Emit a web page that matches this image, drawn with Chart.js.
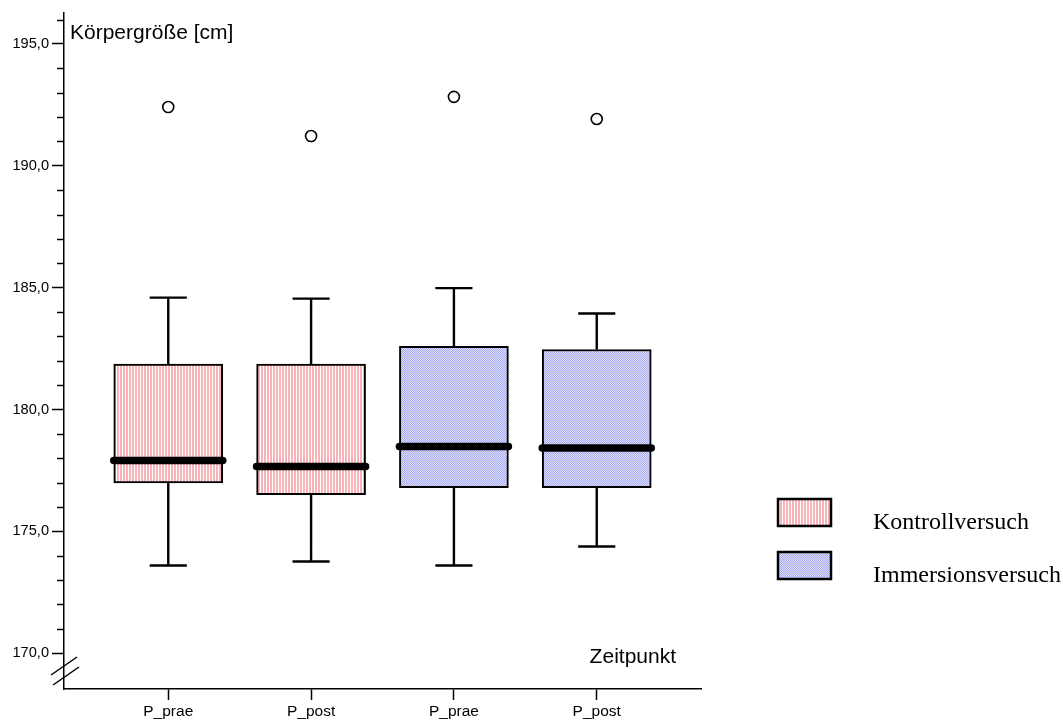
<!DOCTYPE html>
<html><head><meta charset="utf-8">
<script src="https://cdn.jsdelivr.net/npm/chart.js@4/dist/chart.umd.min.js"></script>
<style>html,body{margin:0;padding:0;background:#fff}#wrap{width:1063px;height:722px;position:relative}</style>
</head><body><div id="wrap"><canvas id="c" width="1063" height="722"></canvas></div>
<script>
// ---- data ----
const categories = ['P_prae', 'P_post', 'P_prae', 'P_post'];
const seriesNames = ['Kontrollversuch', 'Immersionsversuch'];
const seriesOfBox = [0, 0, 1, 1];
const whiskerLow  = [173.6, 173.76, 173.6, 174.38];
const quart1      = [176.99, 176.5, 176.79, 176.79];
const medians     = [177.91, 177.66, 178.48, 178.42];
const quart3      = [181.86, 181.86, 182.59, 182.46];
const whiskerHigh = [184.59, 184.55, 184.98, 183.94];
const outliers    = [192.41, 191.22, 192.83, 191.92];
const yAxisTitle = 'Körpergröße [cm]';
const xAxisTitle = 'Zeitpunkt';
const yTickValues = [170,171,172,173,174,175,176,177,178,179,180,181,182,183,184,185,186,187,188,189,190,191,192,193,194,195,196];

// ---- patterns ----
function makePattern(kind) {
  const c = document.createElement('canvas');
  const x = c.getContext('2d');
  if (kind === 0) {
    c.width = 3; c.height = 1;
    x.fillStyle = '#f8b3b8'; x.fillRect(0, 0, 2, 1);
    x.fillStyle = '#ffffff'; x.fillRect(2, 0, 1, 1);
  } else {
    c.width = 2; c.height = 2;
    x.fillStyle = '#aaacf2'; x.fillRect(0, 0, 2, 2);
    x.fillStyle = '#dcdcfb'; x.fillRect(1, 0, 1, 1); x.fillRect(0, 1, 1, 1);
  }
  return document.getElementById('c').getContext('2d').createPattern(c, 'repeat');
}
const fills = [makePattern(0), makePattern(1)];

const BOX_HALF = 0.3817, CAP_HALF = 0.13;

const boxDatasets = seriesNames.map((name, s) => ({
  type: 'bar',
  label: name,
  data: categories.map((_, i) => i).filter(i => seriesOfBox[i] === s).map(i => ({x: i, y: [quart1[i], quart3[i]]})),
  backgroundColor: fills[s],
  borderColor: '#000',
  borderWidth: 2,
  borderSkipped: false,
  barThickness: 109,
  grouped: false,
  order: 3
}));

const whiskerData = [];
categories.forEach((_, i) => {
  whiskerData.push({x: i, y: quart3[i]}, {x: i, y: whiskerHigh[i]}, {x: i, y: null});
  whiskerData.push({x: i - CAP_HALF, y: whiskerHigh[i]}, {x: i + CAP_HALF, y: whiskerHigh[i]}, {x: i, y: null});
  whiskerData.push({x: i, y: quart1[i]}, {x: i, y: whiskerLow[i]}, {x: i, y: null});
  whiskerData.push({x: i - CAP_HALF, y: whiskerLow[i]}, {x: i + CAP_HALF, y: whiskerLow[i]}, {x: i, y: null});
});
const medianData = [];
categories.forEach((_, i) => {
  medianData.push({x: i - BOX_HALF, y: medians[i]}, {x: i + BOX_HALF, y: medians[i]}, {x: i, y: null});
});

const datasets = [
  ...boxDatasets,
  {type: 'line', label: 'whiskers', data: whiskerData, borderColor: '#000', borderWidth: 2.4,
   pointRadius: 0, spanGaps: false, fill: false, order: 2, borderCapStyle: 'butt'},
  {type: 'line', label: 'median', data: medianData, borderColor: '#000', borderWidth: 7.5,
   pointRadius: 0, spanGaps: false, fill: false, order: 1, borderCapStyle: 'round'},
  {type: 'scatter', label: 'outliers', data: outliers.map((v, i) => ({x: i, y: v})),
   pointStyle: 'circle', pointRadius: 5.5, pointBorderWidth: 1.6, pointBorderColor: '#000',
   pointBackgroundColor: '#fff', order: 0}
];

const SANS = '"Liberation Sans", Arial, sans-serif';
const SERIF = '"Liberation Serif", "Times New Roman", serif';

const decor = {
  id: 'decor',
  afterDraw(chart) {
    const ctx = chart.ctx, a = chart.chartArea, ys = chart.scales.y;
    ctx.save();
    // minor ticks
    ctx.strokeStyle = '#000'; ctx.lineWidth = 1.5;
    ys.ticks.forEach(t => {
      if (t.value % 5 !== 0) {
        const py = Math.round(ys.getPixelForValue(t.value)) + 0.5;
        ctx.beginPath(); ctx.moveTo(a.left - 7, py); ctx.lineTo(a.left, py); ctx.stroke();
      }
    });
    // axis break
    ctx.lineWidth = 1.5;
    ctx.beginPath(); ctx.moveTo(a.left - 13, a.bottom - 14); ctx.lineTo(a.left + 13, a.bottom - 32); ctx.stroke();
    ctx.beginPath(); ctx.moveTo(a.left - 11, a.bottom - 4); ctx.lineTo(a.left + 15, a.bottom - 22); ctx.stroke();
    // titles
    ctx.fillStyle = '#000';
    ctx.font = '21px ' + SANS;
    ctx.textBaseline = 'alphabetic';
    ctx.textAlign = 'left';
    ctx.fillText(yAxisTitle, a.left + 6, a.top + 26);
    ctx.textAlign = 'right';
    ctx.fillText(xAxisTitle, a.right - 25, a.bottom - 26);
    // legend
    ctx.textAlign = 'left';
    ctx.font = '24px ' + SERIF;
    seriesNames.forEach((name, s) => {
      const bx = a.right + 77, by = 499 + s * 53;
      ctx.fillStyle = fills[s];
      ctx.fillRect(bx, by, 53, 27);
      ctx.strokeStyle = '#000'; ctx.lineWidth = 2.5;
      ctx.strokeRect(bx, by, 53, 27);
      ctx.fillStyle = '#000';
      ctx.fillText(name, 873, by + 30);
    });
    ctx.restore();
  }
};

new Chart(document.getElementById('c'), {
  type: 'bar',
  data: {datasets},
  options: {
    responsive: false,
    animation: false,
    layout: {padding: {top: 13, right: 362, left: 0, bottom: 0}},
    plugins: {legend: {display: false}, tooltip: {enabled: false}},
    scales: {
      x: {
        type: 'linear', min: -0.73, max: 3.73, offset: false,
        afterBuildTicks: s => { s.ticks = categories.map((_, i) => ({value: i})); },
        afterFit: s => { s.height = 33; },
        ticks: {autoSkip: false, maxRotation: 0, padding: 2, color: '#000',
                font: {family: SANS, size: 15.5}, callback: v => categories[v]},
        grid: {offset: false, drawOnChartArea: false, drawTicks: true, tickLength: 11, tickColor: '#000', tickWidth: 1.5},
        border: {display: true, color: '#000', width: 1.5}
      },
      y: {
        type: 'linear', min: 168.53, max: 196.27,
        afterBuildTicks: s => { s.ticks = yTickValues.map(v => ({value: v})); },
        afterFit: s => { s.width = 64; },
        ticks: {autoSkip: false, padding: 3, color: '#000', font: {family: SANS, size: 14.6},
                callback: v => (v % 5 === 0 ? v.toFixed(1).replace('.', ',') : '')},
        grid: {offset: false, drawOnChartArea: false, drawTicks: true, tickLength: 12, tickWidth: 1.5,
               tickColor: c => (c.tick && c.tick.value % 5 === 0 ? '#000' : 'rgba(0,0,0,0)')},
        border: {display: true, color: '#000', width: 1.5}
      }
    }
  },
  plugins: [decor]
});
</script>
</body></html>
